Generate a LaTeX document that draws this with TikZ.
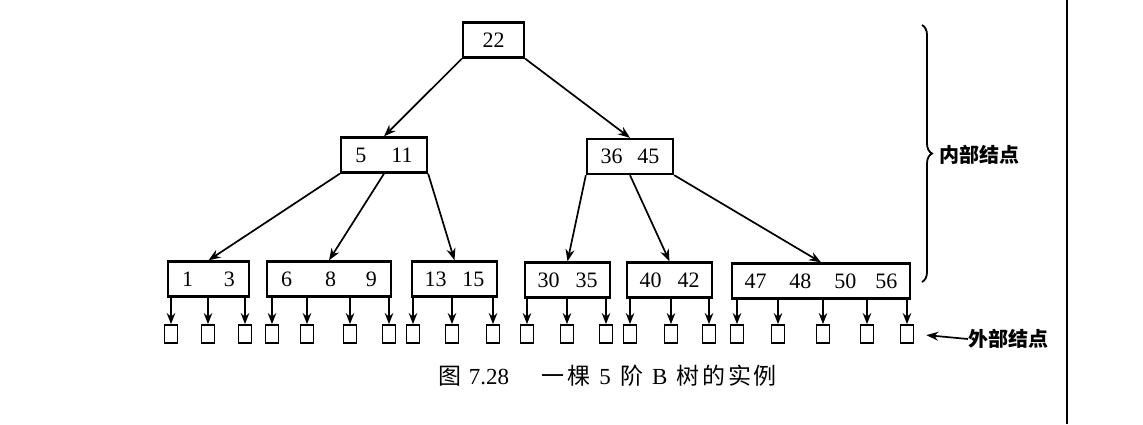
\documentclass[tikz,border=0pt]{standalone}
\usepackage{fontspec}
\setmainfont{Liberation Serif}
\newfontfamily\cjk{Noto Sans CJK SC}
\usetikzlibrary{arrows.meta,positioning,calc,decorations.pathreplacing}
\tikzset{%
  % node classes
  bkey/.style={draw, line width=2.3pt, minimum height=35pt, inner sep=0pt, font=\fontsize{22}{24}\selectfont},
  ext/.style={draw, line width=1.8pt, minimum width=13pt, minimum height=18pt, inner sep=0pt},
  tag/.style={anchor=west, inner sep=0pt, font=\fontsize{20}{24}\selectfont\cjk\bfseries},
  % edge styles
  rel/.style={-{Stealth[length=12pt,width=9pt]}, line width=1.7pt},
  leafrel/.style={-{Stealth[length=11pt,width=8.5pt]}, line width=1.7pt},
}
\newcommand{\gap}[1]{\hspace{#1pt}}
\newcommand{\bnode}[4]{%
  % #1 = name, #2 = centre, #3 = width, #4 = keys
  \node[bkey, minimum width=#3pt] (#1) at (#2) {#4};
}

\begin{document}
\begin{tikzpicture}[x=1pt, y=-1pt]
  \useasboundingbox (0,0) rectangle (1143,424);

  % Internal nodes
  \bnode{root}{493.5,40}{61}{22}
  \bnode{nl}{384,155}{86}{5\gap{25}11}
  \bnode{nr}{630,156.5}{86}{36\gap{15}45}

  \bnode{la}{208.5,279}{81}{1\gap{31}3}
  \bnode{lb}{329,279}{124}{6\gap{33}8\gap{30}9}
  \bnode{lc}{454.5,279}{85}{13\gap{16}15}
  \bnode{ld}{567.5,280}{85}{30\gap{16}35}
  \bnode{le}{669.5,280}{85}{40\gap{16}42}
  \bnode{lf}{821,281}{178}{47\gap{23}48\gap{23}50\gap{19}56}

  % External nodes
  \foreach \x [count=\i] in {171,208,245,272,307,350,389,413,452,493,527,567,606,630,671,709,737,778,823,867,907}
    \node[ext] (e\i) at (\x,334) {};

  % Tree edges
  \draw[rel] (root.south west) -- (nl.north);
  \draw[rel] (root.south east) -- (nr.north);
  \draw[rel] (nl.south west) -- (la.north);
  \draw[rel] (nl.south) -- (lb.north);
  \draw[rel] (nl.south east) -- (lc.north);
  \draw[rel] (nr.south west) -- (ld.north);
  \draw[rel] (nr.south) -- (le.north);
  \draw[rel] (nr.south east) -- (lf.north);

  % Leaf pointers
  \foreach \i/\p in {1/la,2/la,3/la,4/lb,5/lb,6/lb,7/lb,8/lc,9/lc,10/lc,11/ld,12/ld,13/ld,14/le,15/le,16/le,17/lf,18/lf,19/lf,20/lf,21/lf}
    \draw[leafrel] (e\i.north |- \p.south) -- (e\i.north);

  % Labels
  \coordinate (btop) at (922,25);
  \coordinate (bbot) at (922,282);
  \draw[line width=1.8pt, decorate, decoration={brace, amplitude=10pt}] (btop) -- (bbot);
  \node[tag] (inner) at (939,155) {内部结点};
  \node[tag] (outer) at (968,339) {外部结点};
  \draw[rel] (outer.west) -- (e21.east) [shorten >=12pt];

  % Caption
  \node[font=\fontsize{23}{26}\selectfont] (cap) at (608,376)
    {{\cjk 图}\hspace{0.3em}7.28\hspace{1.4em}{\cjk 一\hspace{0.12em}棵}\hspace{0.4em}5\hspace{0.4em}{\cjk 阶}\hspace{0.4em}B\hspace{0.4em}{\cjk 树\hspace{0.12em}的\hspace{0.12em}实\hspace{0.12em}例}};

  % page edge
  \draw[line width=1.2pt] (1067,0) -- (1067,424);
\end{tikzpicture}
\end{document}
